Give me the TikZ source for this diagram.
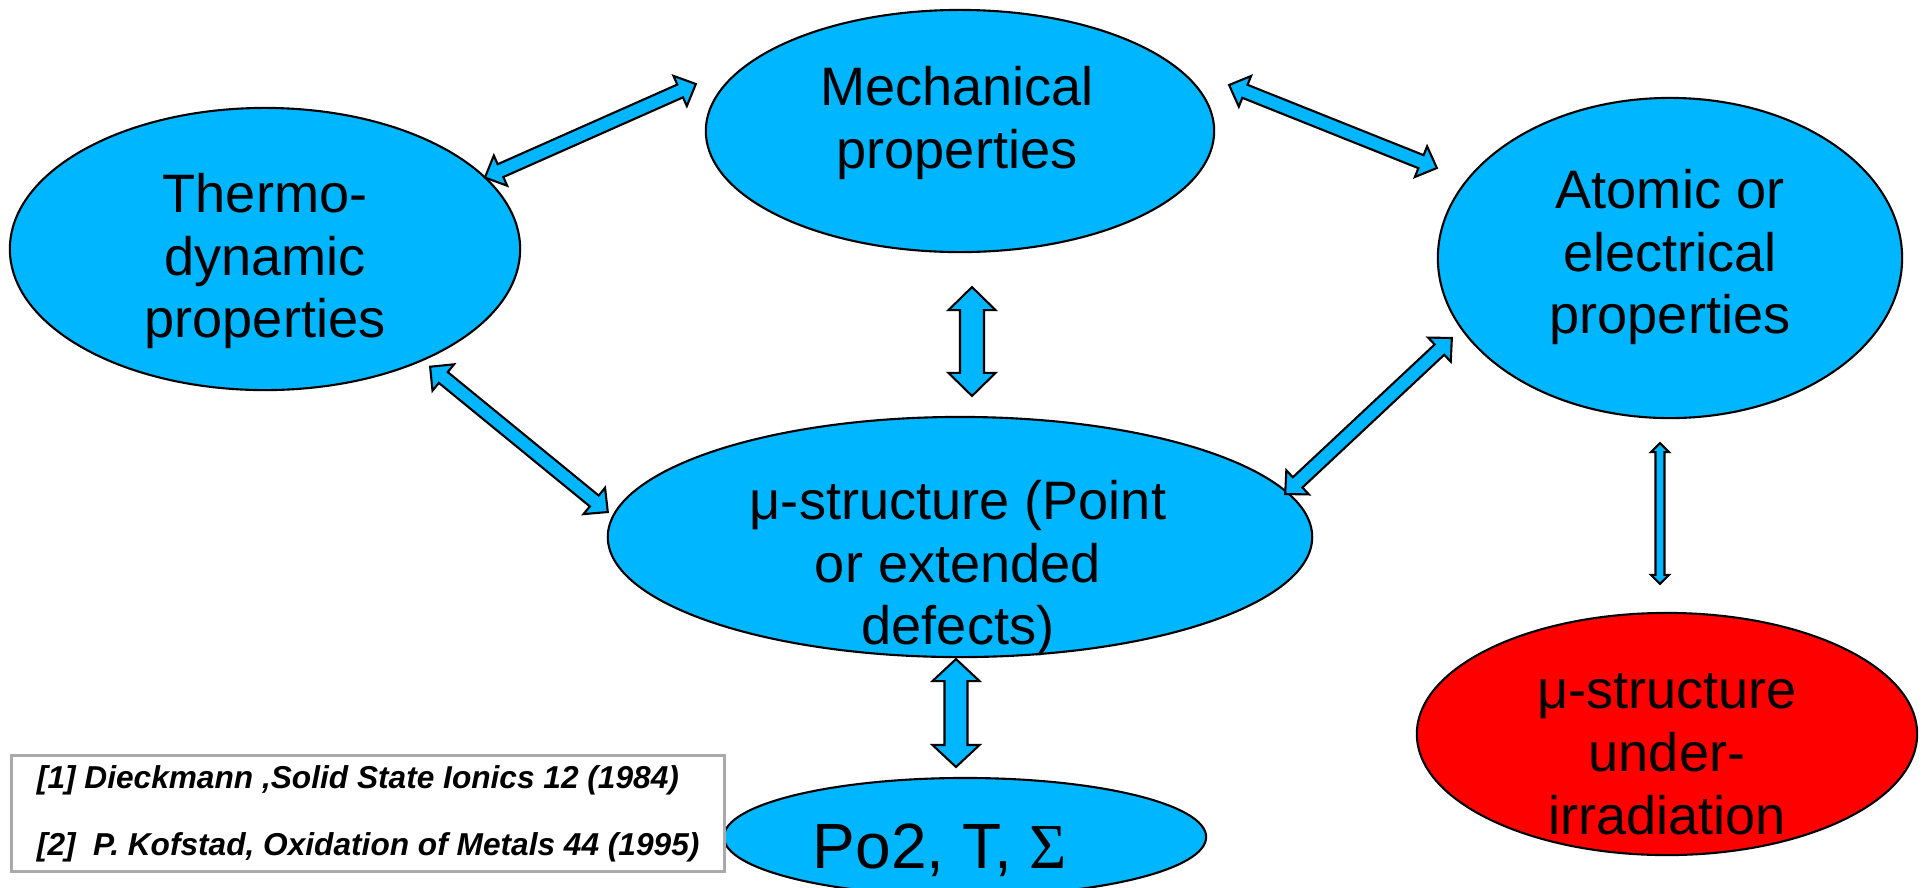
\documentclass[tikz,border=0pt]{standalone}
\usepackage{fontspec}
\setmainfont{Liberation Sans}
\newfontfamily\sigmafont{Liberation Serif}
\usetikzlibrary{shapes.geometric,calc}

\definecolor{skyblue}{RGB}{0,183,255}
\definecolor{boxgray}{RGB}{170,170,170}

\tikzset{
  blob/.style={ellipse, draw=black, line width=0.6pt, fill=#1, inner sep=0pt, outer sep=0pt},
  blob/.default=skyblue,
  blobtext/.style={align=center, font=\fontsize{15.4}{17.9}\selectfont},
  refbox/.style={draw=boxgray, line width=0.85pt, fill=white, align=left, inner sep=0pt,
    font=\fontsize{9}{19}\selectfont\bfseries\itshape},
  % block double arrow: {half shaft}{half head}{head length}
  biarrow/.style n args={3}{draw=black, fill=skyblue, line width=0.6pt,
    to path={let \p1=(\tikztostart), \p2=(\tikztotarget),
      \n1={atan2(\y2-\y1,\x2-\x1)}, \n2={veclen(\x2-\x1,\y2-\y1)} in
      -- ($(\p1)+({\n1}:#3)+({\n1+90}:#2)$)
      -- ($(\p1)+({\n1}:#3)+({\n1+90}:#1)$)
      -- ($(\p1)+({\n1}:{\n2-#3})+({\n1+90}:#1)$)
      -- ($(\p1)+({\n1}:{\n2-#3})+({\n1+90}:#2)$)
      -- (\p2)
      -- ($(\p1)+({\n1}:{\n2-#3})+({\n1-90}:#2)$)
      -- ($(\p1)+({\n1}:{\n2-#3})+({\n1-90}:#1)$)
      -- ($(\p1)+({\n1}:#3)+({\n1-90}:#1)$)
      -- ($(\p1)+({\n1}:#3)+({\n1-90}:#2)$)
      -- cycle}}
}

\begin{document}
\begin{tikzpicture}[x=0.01cm, y=-0.01cm]
  \useasboundingbox (0,0) rectangle (1923,887);
  \clip (0,0) rectangle (1923,887);

  % ellipses
  \node[blob, minimum width=5.10cm, minimum height=2.82cm] (thermo) at (265,249) {};
  \node[blob, minimum width=5.08cm, minimum height=2.42cm] (mech) at (960,131) {};
  \node[blob, minimum width=4.64cm, minimum height=3.20cm] (atomic) at (1670,258) {};
  \node[blob, minimum width=7.04cm, minimum height=2.40cm] (micro) at (960,537) {};
  \node[blob, minimum width=4.82cm, minimum height=1.18cm] (po2) at (965,837) {};
  \node[blob=red, minimum width=5.00cm, minimum height=2.42cm] (irrad) at (1667,734) {};

  % texts
  \node[blobtext] (thermotxt) at (265,261) {Thermo-\\dynamic\\properties};
  \node[blobtext] (mechtxt) at (957,123) {Mechanical\\properties};
  \node[blobtext] (atomictxt) at (1670,257) {Atomic or\\electrical\\properties};
  \node[blobtext] (microtxt) at (958,568) {μ-structure (Point\\or extended\\defects)};
  \node[font=\fontsize{18.2}{21}\selectfont, anchor=base] (po2txt) at (940,868) {Po2, T, {\sigmafont Σ}};
  \node[blobtext] (irradtxt) at (1667,754) {μ-structure\\under-\\irradiation};

  % arrows
  \draw[biarrow={0.07cm}{0.165cm}{0.17cm}] (thermo.18) to ($(mech.west)+(-10,-47)$);
  \draw[biarrow={0.07cm}{0.165cm}{0.17cm}] ($(mech.east)+(15,-46)$) to ($(atomic.west)+(-1,-90)$);
  \draw[biarrow={0.12cm}{0.235cm}{0.23cm}] ($(mech.south)+(12,35)$) to ($(micro.north)+(12,-21)$);
  \draw[biarrow={0.07cm}{0.17cm}{0.17cm}] ($(thermo.-35)+(7,7)$) to ($(micro.west)+(0,-25)$);
  \draw[biarrow={0.07cm}{0.165cm}{0.17cm}] ($(micro.east)+(-27,-43)$) to ($(atomic.west)+(14,80)$);
  \draw[biarrow={0.115cm}{0.235cm}{0.22cm}] ($(micro.south)+(-4,2)$) to ($(po2.north)+(-9,-11)$);
  \draw[biarrow={0.045cm}{0.09cm}{0.09cm}] ($(atomic.south)+(-10,25)$) to ($(irrad.north)+(-7,-29)$);

  % references
  \node[refbox, anchor=north west, minimum width=7.13cm, minimum height=1.16cm] (refs) at (10,754)
    {[1] Dieckmann ,Solid State Ionics 12 (1984)\\{}[2]\ \ P. Kofstad, Oxidation of Metals 44 (1995)};
\end{tikzpicture}
\end{document}
